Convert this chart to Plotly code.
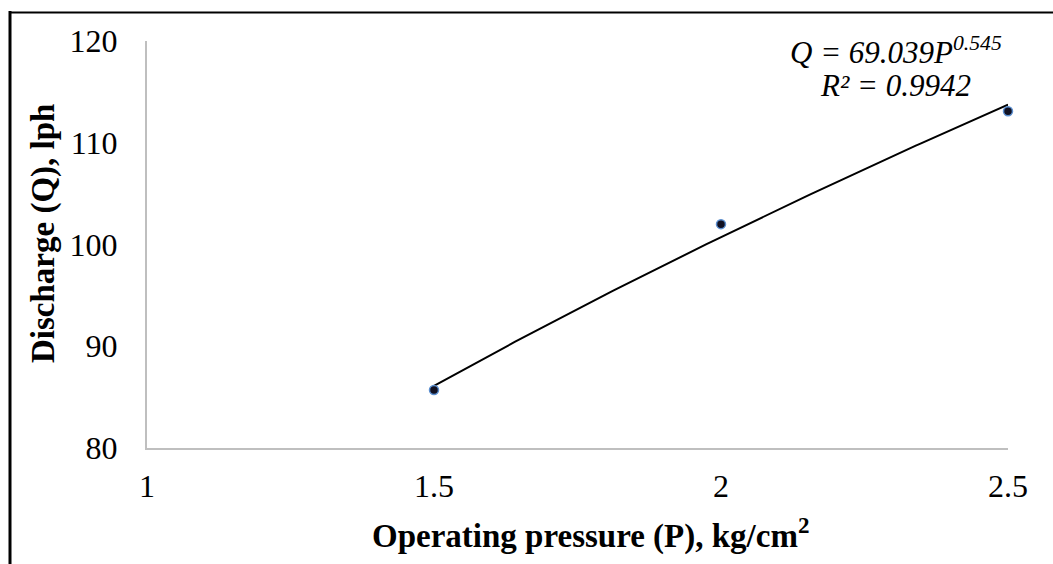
import numpy as np
import plotly.graph_objects as go

# Data
pressure = [1.5, 2.0, 2.5]
discharge = [85.7, 102.0, 113.1]
fit_coef = 69.039
fit_exp = 0.545
r_squared = 0.9942
x_ticks = [1, 1.5, 2, 2.5]
x_tick_labels = ["1", "1.5", "2", "2.5"]
y_ticks = [80, 90, 100, 110, 120]

W, H = 1053, 564
L, R, T, B = 147, 1008, 41, 448

def px(x):
    return (x - L) / (R - L)

def py(y):
    return (B - y) / (B - T)

fit_x = np.linspace(min(pressure), max(pressure), 100)
fit_y = fit_coef * fit_x ** fit_exp

fig = go.Figure()
fig.add_trace(go.Scatter(x=fit_x, y=fit_y, mode="lines", cliponaxis=False,
                         line=dict(color="black", width=2), hoverinfo="skip"))
fig.add_trace(go.Scatter(x=pressure, y=discharge, mode="markers", cliponaxis=False,
                         marker=dict(size=9, color="#111122",
                                     line=dict(color="#5B8FD0", width=1.5))))

font_family = "Liberation Serif, Times New Roman, serif"

fig.update_layout(
    width=W, height=H,
    margin=dict(l=L, r=W - R, t=T, b=H - B),
    plot_bgcolor="white", paper_bgcolor="white",
    showlegend=False,
    font=dict(family=font_family, color="black"),
    xaxis=dict(range=[1, 2.5], tickvals=x_ticks, ticktext=x_tick_labels,
               showgrid=False, zeroline=False, showline=True,
               linecolor="#BFBFBF", linewidth=2,
               ticks="outside", ticklen=9, tickcolor="rgba(0,0,0,0)",
               tickfont=dict(size=32, family=font_family, color="black")),
    yaxis=dict(range=[80, 120], tickvals=y_ticks,
               showgrid=False, zeroline=False, showline=True,
               linecolor="#BFBFBF", linewidth=2,
               ticks="outside", ticklen=21, tickcolor="rgba(0,0,0,0)",
               tickfont=dict(size=32, family=font_family, color="black")),
    shapes=[
        dict(type="line", xref="paper", yref="paper",
             x0=px(10), x1=px(10), y0=py(11), y1=py(H + 5),
             line=dict(color="black", width=3)),
        dict(type="line", xref="paper", yref="paper",
             x0=px(9), x1=px(W + 5), y0=py(12.5), y1=py(12.5),
             line=dict(color="black", width=2)),
    ],
    annotations=[
        dict(xref="paper", yref="paper", x=px(590), y=py(533),
             text="<b>Operating pressure (P), kg/cm<sup>2</sup></b>", showarrow=False,
             font=dict(size=33, family=font_family, color="black"),
             xanchor="center", yanchor="middle"),
        dict(xref="paper", yref="paper", x=px(43), y=py(234),
             text="<b>Discharge (Q), lph</b>", showarrow=False, textangle=-90,
             font=dict(size=33, family=font_family, color="black"),
             xanchor="center", yanchor="middle"),
        dict(xref="paper", yref="paper", x=px(896), y=py(50),
             text=f"<i>Q = {fit_coef}P<sup>{fit_exp}</sup></i>", showarrow=False,
             font=dict(size=31, family=font_family, color="black"),
             xanchor="center", yanchor="middle"),
        dict(xref="paper", yref="paper", x=px(895), y=py(86),
             text=f"<i>R² = {r_squared}</i>", showarrow=False,
             font=dict(size=31, family=font_family, color="black"),
             xanchor="center", yanchor="middle"),
    ],
)

fig.write_html("out.html", config={"displayModeBar": False},
               post_script="document.body.style.margin='0px';")
